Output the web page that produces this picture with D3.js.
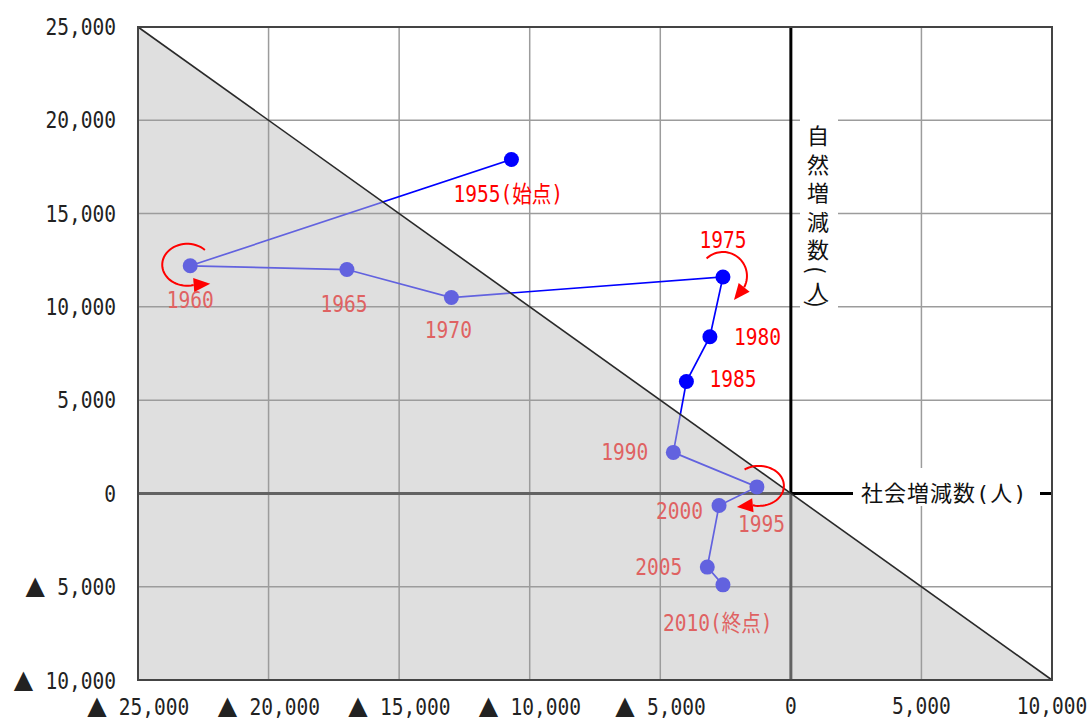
<!DOCTYPE html>
<html><head><meta charset="utf-8">
<script src="https://cdn.jsdelivr.net/npm/d3@7"></script>
<style>body{margin:0;background:#fff} svg{display:block}</style>
</head><body>
<svg id="c" width="1087" height="718"></svg>
<script>
// ---- data ----
const years = [1955,1960,1965,1970,1975,1980,1985,1990,1995,2000,2005,2010];
const socialChange  = [-10700,-23000,-17000,-13000,-2600,-3100,-4000,-4500,-1300,-2750,-3200,-2600];
const naturalChange = [17900,12200,12000,10500,11600,8400,6000,2200,350,-650,-3950,-4900];
const pointLabels = ["1955(始点)","1960","1965","1970","1975","1980","1985","1990","1995","2000","2005","2010(終点)"];
const xTicks = [-25000,-20000,-15000,-10000,-5000,0,5000,10000];
const xTickLabels = ["25,000","20,000","15,000","10,000","5,000","0","5,000","10,000"];
const yTicks = [-10000,-5000,0,5000,10000,15000,20000,25000];
const yTickLabels = ["10,000","5,000","0","5,000","10,000","15,000","20,000","25,000"];
const xTitle = "社会増減数(人)";
const yTitleChars = ["自","然","増","減","数","(","人",")"];

// ---- layout ----
const svg = d3.select("#c");
const L=138, R=1052, T=27, B=680;
const x = d3.scaleLinear().domain([-25000,10000]).range([L,R]);
const y = d3.scaleLinear().domain([-10000,25000]).range([B,T]);
const MONO = "'DejaVu Sans Mono','Noto Sans CJK JP',monospace";
const CJK = "'Noto Sans CJK JP',sans-serif";
const SX = 0.85;

// narrow bitmap-like text: monospace font squeezed horizontally
function mtext(parent, px, py, str, anchor, fill, baseline){
  const t = parent.append("text")
    .attr("transform",`translate(${px},${py}) scale(${SX},1)`)
    .attr("text-anchor",anchor).attr("font-family",MONO).attr("font-size",23)
    .attr("fill",fill);
  if(baseline) t.attr("dominant-baseline",baseline);
  if(str!==null) t.text(str);
  return t;
}

const pts = years.map((yr,i)=>({yr, sx:x(socialChange[i]), sy:y(naturalChange[i]), label:pointLabels[i]}));

// label placement (pixel offsets from each point)
const labelPos = [
  {dx:-58,dy:43,a:"start"},{dx:0,dy:42,a:"middle"},{dx:-3,dy:42,a:"middle"},{dx:-3,dy:40,a:"middle"},
  {dx:0,dy:-29,a:"middle"},{dx:24,dy:8,a:"start"},{dx:23,dy:6,a:"start"},{dx:-25,dy:8,a:"end"},
  {dx:-19,dy:45,a:"start"},{dx:-16,dy:13,a:"end"},{dx:-25,dy:8,a:"end"},{dx:-60,dy:46,a:"start"}
];

const defs = svg.append("defs");
const upperPoly = [[-25000,25000],[10000,25000],[10000,-10000]].map(d=>[x(d[0]),y(d[1])]);
const lowerPoly = [[-25000,25000],[-25000,-10000],[10000,-10000]].map(d=>[x(d[0]),y(d[1])]);
defs.append("clipPath").attr("id","cu").append("polygon").attr("points",upperPoly.map(p=>p.join(",")).join(" "));
defs.append("clipPath").attr("id","cl").append("polygon").attr("points",lowerPoly.map(p=>p.join(",")).join(" "));

// shaded triangle
svg.append("polygon").attr("points",lowerPoly.map(p=>p.join(",")).join(" ")).attr("fill","#dfdfdf");

// grid
const grid = svg.append("g").attr("stroke","#9c9c9c").attr("stroke-width",1.5);
xTicks.filter(v=>v!==0 && v>-25000 && v<10000).forEach(v=>{
  grid.append("line").attr("x1",x(v)).attr("x2",x(v)).attr("y1",T).attr("y2",B);
});
yTicks.filter(v=>v!==0 && v>-10000 && v<25000).forEach(v=>{
  grid.append("line").attr("x1",L).attr("x2",R).attr("y1",y(v)).attr("y2",y(v));
});

// data layers, drawn twice (normal above diagonal, dimmed in shaded area)
const palettes = [
  {clip:"cu", blue:"#0000ff", red:"#ff0000", black:"#000000"},
  {clip:"cl", blue:"#6262df", red:"#df6262", black:"#626262"}
];
const lineGen = d3.line().x(d=>d.sx).y(d=>d.sy);
palettes.forEach(p=>{
  const g = svg.append("g").attr("clip-path",`url(#${p.clip})`);
  g.append("line").attr("x1",x(0)).attr("x2",x(0)).attr("y1",T).attr("y2",B).attr("stroke",p.black).attr("stroke-width",3);
  g.append("line").attr("x1",L).attr("x2",R).attr("y1",y(0)).attr("y2",y(0)).attr("stroke",p.black).attr("stroke-width",3);
  g.append("path").attr("d",lineGen(pts)).attr("fill","none").attr("stroke",p.blue).attr("stroke-width",1.7);
  g.selectAll("circle").data(pts).join("circle").attr("cx",d=>d.sx).attr("cy",d=>d.sy).attr("r",7.5).attr("fill",p.blue);
  pts.forEach((d,i)=>{
    mtext(g, d.sx+labelPos[i].dx, d.sy+labelPos[i].dy, d.label, labelPos[i].a, p.red);
  });
});

// diagonal
svg.append("line").attr("x1",x(-25000)).attr("y1",y(25000)).attr("x2",x(10000)).attr("y2",y(-10000))
  .attr("stroke","#2a2a2a").attr("stroke-width",1.6);

// axis title boxes
svg.append("rect").attr("x",853).attr("y",468).attr("width",187).attr("height",38).attr("fill","#fff");
svg.append("text").attr("x",861).attr("y",y(0)).attr("dominant-baseline","central")
  .attr("font-family",MONO).attr("font-size",22).attr("letter-spacing",1).attr("fill","#111").text(xTitle);

svg.append("rect").attr("x",800).attr("y",112).attr("width",38).attr("height",206).attr("fill","#fff");
const vyPos = [134,162.5,191,219.5,248,270,290,304];
yTitleChars.forEach((ch,i)=>{
  const t = svg.append("text").attr("x",818).attr("y",vyPos[i]).attr("text-anchor","middle")
    .attr("dominant-baseline","central").attr("font-family",CJK).attr("font-size",22).attr("fill","#111").text(ch);
  if(ch==="("||ch===")") t.attr("transform",`rotate(90,818,${vyPos[i]})`);
});

// red arrows
function ellArc(cx,cy,rx,ry,a0,a1){
  const n=40, r=[];
  for(let k=0;k<=n;k++){const a=(a0+(a1-a0)*k/n)*Math.PI/180; r.push([cx+rx*Math.cos(a),cy+ry*Math.sin(a)]);}
  return r;
}
const arrowSpecs = [
  {i:1, c:[-3,-1], rx:25, ry:21, a0:-45, a1:-285, tip:[20,18]},
  {i:4, c:[0,-1], rx:24, ry:24, a0:-133, a1:28, tip:[11,23]},
  {i:8, c:[2,-1], rx:25, ry:20, a0:-125, a1:104, tip:[-20,20]}
];
const ag = svg.append("g");
arrowSpecs.forEach(s=>{
  const P = pts[s.i];
  const arc = ellArc(s.c[0],s.c[1],s.rx,s.ry,s.a0,s.a1).map(q=>[P.sx+q[0],P.sy+q[1]]);
  ag.append("path").attr("d",d3.line()(arc)).attr("fill","none").attr("stroke","#ff0000").attr("stroke-width",2);
  const b = arc[arc.length-1], t=[P.sx+s.tip[0],P.sy+s.tip[1]];
  const dx=t[0]-b[0], dy=t[1]-b[1], len=Math.hypot(dx,dy), nx=-dy/len*7, ny=dx/len*7;
  ag.append("polygon").attr("points",[t,[b[0]+nx,b[1]+ny],[b[0]-nx,b[1]-ny]].map(q=>q.join(",")).join(" ")).attr("fill","#ff0000");
});

// frame
svg.append("rect").attr("x",L).attr("y",T).attr("width",R-L).attr("height",B-T)
  .attr("fill","none").attr("stroke","#444").attr("stroke-width",2);

// tick labels
function tickText(t,v,lab){
  if(v<0){
    t.append("tspan").attr("font-family",CJK).attr("font-size",24).text("▲");
    t.append("tspan").text(" "+lab);
  } else t.text(lab);
}
yTicks.forEach((v,i)=>{
  const t = mtext(svg, 116, y(v), null, "end", "#222", "central");
  tickText(t,v,yTickLabels[i]);
});
xTicks.forEach((v,i)=>{
  const t = mtext(svg, x(v), 706, null, "middle", "#222", "central");
  tickText(t,v,xTickLabels[i]);
});
</script>
</body></html>
